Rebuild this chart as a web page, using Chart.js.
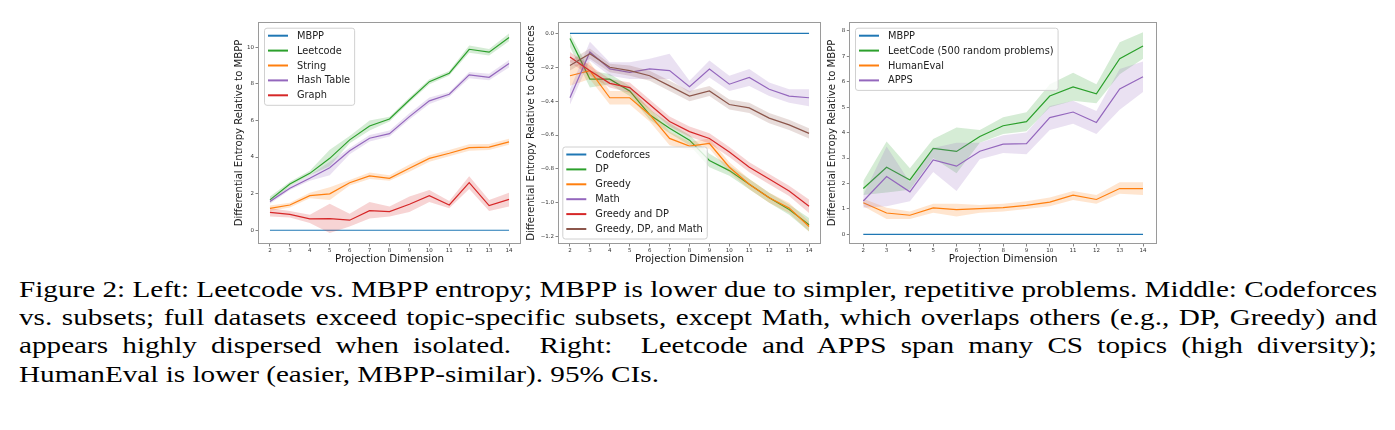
<!DOCTYPE html>
<html><head><meta charset="utf-8">
<script src="https://cdn.jsdelivr.net/npm/chart.js@4.4.1/dist/chart.umd.min.js"></script>
<style>
body{margin:0;width:1395px;height:430px;background:#fff;position:relative;overflow:hidden;}
canvas{position:absolute;}
#cap{position:absolute;left:19px;top:274.5px;font-family:"Liberation Serif","Times New Roman",serif;font-size:23.7px;color:#000;}
#cap div{white-space:nowrap;text-align:justify;text-align-last:justify;line-height:28.4px;height:28.4px;transform-origin:0 0;}
#cap div.last{text-align-last:left;}
</style></head><body>
<canvas id="c1" width="293" height="262" style="left:232px;top:10px"></canvas>
<canvas id="c2" width="301" height="262" style="left:524px;top:10px"></canvas>
<canvas id="c3" width="336" height="262" style="left:825px;top:10px"></canvas>
<div id="cap">
<div>Figure 2: Left: Leetcode vs. MBPP entropy; MBPP is lower due to simpler, repetitive problems. Middle: Codeforces</div>
<div>vs. subsets; full datasets exceed topic-specific subsets, except Math, which overlaps others (e.g., DP, Greedy) and</div>
<div>appears highly dispersed when isolated.&nbsp; Right:&nbsp; Leetcode and APPS span many CS topics (high diversity);</div>
<div class="last">HumanEval is lower (easier, MBPP-similar). 95% CIs.</div>
</div>
<script>
// ---------- data ----------
const dims = [2,3,4,5,6,7,8,9,10,11,12,13,14];
const xTickLabels = ['2','3','4','5','6','7','8','9','10','11','12','13','14'];

// Left panel
const leftYTicks = [0,2,4,6,8,10];
const leftYTickLabels = ['0','2','4','6','8','10'];
const leftMBPP = [0,0,0,0,0,0,0,0,0,0,0,0,0];
const leftLeetcode   = [1.66,2.53,3.11,3.93,4.94,5.70,6.08,7.12,8.12,8.58,9.89,9.73,10.53];
const leftLeetcodeLo = [1.50,2.40,3.00,3.50,4.75,5.45,5.95,7.00,7.98,8.45,9.70,9.55,10.33];
const leftLeetcodeHi = [1.85,2.65,3.25,4.40,5.15,6.00,6.20,7.25,8.25,8.70,10.10,9.90,10.75];
const leftString   = [1.20,1.38,1.89,1.99,2.60,2.97,2.84,3.39,3.93,4.21,4.52,4.54,4.83];
const leftStringLo = [1.05,1.25,1.75,1.65,2.45,2.80,2.70,3.20,3.75,4.05,4.35,4.38,4.68];
const leftStringHi = [1.35,1.50,2.05,2.35,2.75,3.15,3.00,3.60,4.10,4.38,4.70,4.72,5.00];
const leftHash   = [1.57,2.30,2.84,3.42,4.34,5.03,5.28,6.21,7.07,7.43,8.49,8.36,9.11];
const leftHashLo = [1.45,2.20,2.70,3.00,4.15,4.85,5.13,6.05,6.90,7.30,8.30,8.20,8.90];
const leftHashHi = [1.70,2.40,3.00,3.75,4.50,5.20,5.45,6.40,7.25,7.55,8.65,8.55,9.30];
const leftGraph   = [0.98,0.87,0.62,0.64,0.55,1.07,1.02,1.42,1.89,1.38,2.60,1.35,1.69];
const leftGraphLo = [0.75,0.70,0.40,-0.15,0.20,0.65,0.75,1.00,1.55,1.20,2.25,1.05,1.30];
const leftGraphHi = [1.20,1.05,0.85,1.45,0.90,1.55,1.30,1.85,2.20,1.60,2.95,1.65,2.05];

// Middle panel
const midYTicks = [0,-0.2,-0.4,-0.6,-0.8,-1.0,-1.2];
const midYTickLabels = ['0.0','\u22120.2','\u22120.4','\u22120.6','\u22120.8','\u22121.0','\u22121.2'];
const midCodeforces = [0,0,0,0,0,0,0,0,0,0,0,0,0];
const midDP   = [-0.03,-0.27,-0.27,-0.34,-0.48,-0.56,-0.63,-0.75,-0.81,-0.89,-0.97,-1.04,-1.13];
const midDPLo = [-0.08,-0.32,-0.30,-0.37,-0.51,-0.59,-0.66,-0.79,-0.84,-0.92,-1.00,-1.07,-1.17];
const midDPHi = [0.00,-0.22,-0.24,-0.31,-0.45,-0.53,-0.60,-0.71,-0.78,-0.86,-0.94,-1.01,-1.09];
const midGreedy   = [-0.25,-0.22,-0.38,-0.38,-0.48,-0.62,-0.665,-0.65,-0.79,-0.89,-0.97,-1.03,-1.14];
const midGreedyLo = [-0.31,-0.27,-0.42,-0.42,-0.52,-0.66,-0.69,-0.68,-0.82,-0.92,-1.00,-1.06,-1.17];
const midGreedyHi = [-0.19,-0.17,-0.34,-0.34,-0.44,-0.58,-0.64,-0.62,-0.76,-0.86,-0.94,-1.00,-1.11];
const midMath   = [-0.38,-0.11,-0.21,-0.23,-0.21,-0.22,-0.315,-0.21,-0.30,-0.26,-0.33,-0.37,-0.38];
const midMathLo = [-0.42,-0.16,-0.25,-0.27,-0.27,-0.27,-0.35,-0.26,-0.34,-0.31,-0.37,-0.41,-0.43];
const midMathHi = [-0.33,-0.05,-0.17,-0.17,-0.15,-0.12,-0.28,-0.16,-0.25,-0.21,-0.29,-0.33,-0.33];
const midGDP   = [-0.14,-0.22,-0.295,-0.32,-0.42,-0.52,-0.58,-0.62,-0.70,-0.79,-0.86,-0.93,-1.02];
const midGDPLo = [-0.17,-0.25,-0.32,-0.35,-0.45,-0.55,-0.61,-0.65,-0.73,-0.82,-0.89,-0.96,-1.06];
const midGDPHi = [-0.11,-0.19,-0.27,-0.29,-0.39,-0.49,-0.55,-0.59,-0.67,-0.76,-0.83,-0.90,-0.98];
const midGDM   = [-0.19,-0.12,-0.20,-0.22,-0.25,-0.31,-0.37,-0.34,-0.42,-0.44,-0.50,-0.54,-0.59];
const midGDMLo = [-0.22,-0.15,-0.23,-0.25,-0.28,-0.34,-0.40,-0.37,-0.45,-0.47,-0.53,-0.57,-0.62];
const midGDMHi = [-0.16,-0.09,-0.18,-0.19,-0.22,-0.28,-0.34,-0.31,-0.39,-0.41,-0.47,-0.51,-0.56];

// Right panel
const rightYTicks = [0,1,2,3,4,5,6,7,8];
const rightYTickLabels = ['0','1','2','3','4','5','6','7','8'];
const rightMBPP = [0,0,0,0,0,0,0,0,0,0,0,0,0];
const rightLeet   = [1.80,2.64,2.14,3.38,3.26,3.85,4.27,4.43,5.44,5.80,5.53,6.91,7.41];
const rightLeetLo = [1.55,1.65,1.75,3.00,2.40,3.60,3.95,4.05,5.00,5.25,5.15,6.30,6.90];
const rightLeetHi = [2.10,3.65,2.60,3.75,4.20,4.10,4.60,4.80,5.90,6.35,5.90,7.55,7.95];
const rightHE   = [1.24,0.84,0.75,1.04,0.97,1.01,1.05,1.14,1.27,1.54,1.37,1.80,1.80];
const rightHELo = [1.10,0.60,0.60,0.85,0.70,0.85,0.90,1.00,1.10,1.35,1.20,1.60,1.55];
const rightHEHi = [1.40,1.05,0.90,1.20,1.20,1.15,1.20,1.30,1.45,1.70,1.55,2.05,2.05];
const rightAPPS   = [1.31,2.27,1.67,2.93,2.68,3.27,3.55,3.57,4.59,4.81,4.40,5.72,6.20];
const rightAPPSLo = [1.05,1.10,1.30,2.45,1.70,2.95,3.20,3.15,4.10,4.35,3.95,4.90,5.60];
const rightAPPSHi = [1.55,3.45,2.05,3.40,3.60,3.60,3.90,4.00,5.05,5.25,4.85,6.50,6.80];

// ---------- caption fitting (the reference caption is stretched horizontally) ----------
(function(){
  const S = 1.232, FULL = 1358;
  document.querySelectorAll('#cap div').forEach(d=>{
    const span=document.createElement('span'); span.textContent=d.textContent;
    span.style.cssText='position:absolute;visibility:hidden;white-space:nowrap;font:inherit;';
    d.appendChild(span); const nat=span.getBoundingClientRect().width; d.removeChild(span);
    let s=S;
    if(!d.classList.contains('last') && nat*s>FULL) s=FULL/nat;
    d.style.width=(FULL/s)+'px';
    d.style.transform='scaleX('+s+')';
  });
})();

// ---------- helpers ----------
const C = {blue:'#1f77b4',orange:'#ff7f0e',green:'#2ca02c',red:'#d62728',purple:'#9467bd',brown:'#8c564b'};
const FAM = '"DejaVu Sans", sans-serif';
function pts(arr){ return arr.map((v,i)=>({x:dims[i],y:v})); }
function rgba(hex,a){const n=parseInt(hex.slice(1),16);return `rgba(${n>>16&255},${n>>8&255},${n&255},${a})`;}
function series(label,color,mean,lo,hi){
  const out=[];
  if(lo&&hi){
    out.push({data:pts(hi),fill:'+1',backgroundColor:rgba(color,0.2),borderWidth:0,pointRadius:0,band:true});
    out.push({data:pts(lo),fill:false,borderWidth:0,pointRadius:0,band:true});
  }
  out.push({label,data:pts(mean),borderColor:color,borderWidth:1.2,fill:false,pointRadius:0,legendEntry:true});
  return out;
}
function withOrder(list){ list.forEach((d,i)=>{d.order=-i;}); return list; }

const framePlugin = {
  id:'frameLegend',
  afterDatasetsDraw(chart,args,opts){
    const {ctx,chartArea:a}=chart;
    ctx.save();
    ctx.strokeStyle='#9a9a9a';ctx.lineWidth=1;
    ctx.strokeRect(Math.round(a.left)+0.5,Math.round(a.top)+0.5,Math.round(a.right-a.left)-1,Math.round(a.bottom-a.top)-1);
    const entries=chart.data.datasets.filter(d=>d.legendEntry);
    ctx.font='9.8px '+FAM;
    let mw=0; entries.forEach(e=>{mw=Math.max(mw,ctx.measureText(e.label).width);});
    const sp=14.9, w=4+20+9+mw+4, h=8+(entries.length-1)*sp+9.5;
    const x=a.left+opts.dx;
    const y=opts.fromBottom? a.bottom-opts.dy-h : a.top+opts.dy;
    ctx.fillStyle='rgba(255,255,255,0.8)';ctx.strokeStyle='#d0d0d0';ctx.lineWidth=1;
    ctx.beginPath();
    if(ctx.roundRect) ctx.roundRect(x+0.5,y+0.5,w,h,2.5); else ctx.rect(x+0.5,y+0.5,w,h);
    ctx.fill();ctx.stroke();
    entries.forEach((e,i)=>{
      const cy=y+8+i*sp;
      ctx.strokeStyle=e.borderColor;ctx.lineWidth=2;
      ctx.beginPath();ctx.moveTo(x+4,cy);ctx.lineTo(x+24,cy);ctx.stroke();
      ctx.fillStyle='#222';ctx.textBaseline='middle';ctx.textAlign='left';
      ctx.fillText(e.label,x+33,cy+0.5);
    });
    ctx.restore();
  }
};

function makeChart(id,datasets,cfg){
  new Chart(document.getElementById(id),{
    type:'line',
    data:{datasets:withOrder(datasets)},
    plugins:[framePlugin],
    options:{
      responsive:false,animation:false,devicePixelRatio:1,
      layout:{padding:{top:12,right:4,left:0,bottom:0},autoPadding:false},
      elements:{line:{tension:0}},
      plugins:{legend:{display:false},tooltip:{enabled:false},
        frameLegend:{dx:cfg.ldx,dy:cfg.ldy,fromBottom:cfg.lbottom}},
      scales:{
        x:{type:'linear',min:1.4,max:14.6,
          afterBuildTicks:s=>{s.ticks=dims.map(v=>({value:v}));},
          afterFit:s=>{s.height=28;},
          ticks:{font:{size:5.5,family:FAM},color:'#333',padding:0.5,maxRotation:0,autoSkip:false,
            callback:(v,i)=>xTickLabels[i]},
          grid:{display:true,drawOnChartArea:false,drawTicks:true,tickLength:2.5,tickColor:'#666',tickWidth:0.8},
          border:{display:false},
          title:{display:true,text:'Projection Dimension',font:{size:10.3,family:FAM},color:'#1a1a1a',padding:{top:0,bottom:6.8}}
        },
        y:{type:'linear',min:cfg.ymin,max:cfg.ymax,
          afterBuildTicks:s=>{s.ticks=cfg.yTicks.map(v=>({value:v}));},
          afterFit:s=>{s.width=cfg.yW;},
          ticks:{font:{size:5.5,family:FAM},color:'#333',padding:1.5,autoSkip:false,
            callback:(v,i)=>cfg.yLabels[i]},
          grid:{display:true,drawOnChartArea:false,drawTicks:true,tickLength:2.5,tickColor:'#666',tickWidth:0.8},
          border:{display:false},
          title:{display:true,text:cfg.ytitle,font:{size:10.1,family:FAM},color:'#1a1a1a',padding:{top:1.8,bottom:0}}
        }
      }
    }
  });
}

makeChart('c1',[
  ...series('MBPP',C.blue,leftMBPP),
  ...series('Leetcode',C.green,leftLeetcode,leftLeetcodeLo,leftLeetcodeHi),
  ...series('String',C.orange,leftString,leftStringLo,leftStringHi),
  ...series('Hash Table',C.purple,leftHash,leftHashLo,leftHashHi),
  ...series('Graph',C.red,leftGraph,leftGraphLo,leftGraphHi)
],{ymin:-0.75,ymax:11.38,yTicks:leftYTicks,yLabels:leftYTickLabels,yW:26,ytitle:'Differential Entropy Relative to MBPP',ldx:6,ldy:5.7,lbottom:false});

makeChart('c2',[
  ...series('Codeforces',C.blue,midCodeforces),
  ...series('DP',C.green,midDP,midDPLo,midDPHi),
  ...series('Greedy',C.orange,midGreedy,midGreedyLo,midGreedyHi),
  ...series('Math',C.purple,midMath,midMathLo,midMathHi),
  ...series('Greedy and DP',C.red,midGDP,midGDPLo,midGDPHi),
  ...series('Greedy, DP, and Math',C.brown,midGDM,midGDMLo,midGDMHi)
],{ymin:-1.243,ymax:0.067,yTicks:midYTicks,yLabels:midYTickLabels,yW:34,ytitle:'Differential Entropy Relative to Codeforces',ldx:4.3,ldy:5.5,lbottom:true});

makeChart('c3',[
  ...series('MBPP',C.blue,rightMBPP),
  ...series('LeetCode (500 random problems)',C.green,rightLeet,rightLeetLo,rightLeetHi),
  ...series('HumanEval',C.orange,rightHE,rightHELo,rightHEHi),
  ...series('APPS',C.purple,rightAPPS,rightAPPSLo,rightAPPSHi)
],{ymin:-0.38,ymax:8.35,yTicks:rightYTicks,yLabels:rightYTickLabels,yW:24.3,ytitle:'Differential Entropy Relative to MBPP',ldx:5.7,ldy:5.7,lbottom:false});
</script>
</body></html>
